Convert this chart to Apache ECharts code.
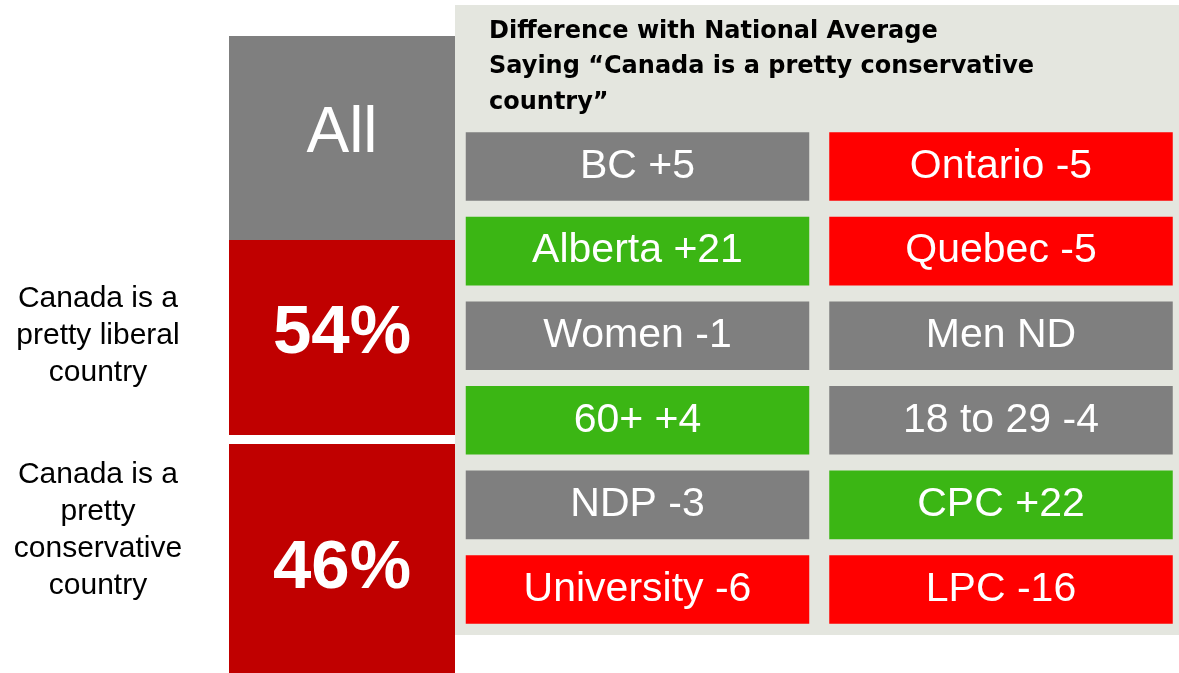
<!DOCTYPE html>
<html>
<head>
<meta charset="utf-8">
<script src="https://cdn.jsdelivr.net/npm/echarts@6/dist/echarts.min.js"></script>
<style>
html,body{margin:0;padding:0;background:#ffffff;}
#c{width:1179px;height:673px;}
</style>
</head>
<body>
<div id="c"></div>
<script>
// ---------- data ----------
const overallRows = ['All', 'Canada is a\npretty liberal\ncountry', 'Canada is a\npretty\nconservative\ncountry'];
const overallShares = [null, 54, 46];

const panelTitle = ['Difference with National Average', 'Saying \u201cCanada is a pretty conservative', 'country\u201d'];

const columnKeys = ['left', 'right'];
const leftGroups = ['BC', 'Alberta', 'Women', '60+', 'NDP', 'University'];
const leftDiffs = [5, 21, -1, 4, -3, -6];
const leftSig = ['ns', 'higher', 'ns', 'higher', 'ns', 'lower'];
const rightGroups = ['Ontario', 'Quebec', 'Men', '18 to 29', 'CPC', 'LPC'];
const rightDiffs = [-5, -5, null, -4, 22, -16];
const rightSig = ['lower', 'lower', 'ns', 'ns', 'higher', 'lower'];

// ---------- styles ----------
const GRAY = '#7f7f7f';
const DARK_RED = '#c00000';
const RED = '#ff0000';
const GREEN = '#3bb614';
const PANEL_BG = '#e4e6df';
const sigColor = { ns: GRAY, higher: GREEN, lower: RED };
const blockTextShift = [-4, -4, 10];
const sideLabelShift = [0, -6.5, -15.5];

function fmtDiff(v) {
  if (v === null || v === undefined) return 'ND';
  return v > 0 ? '+' + v : String(v);
}

const cells = [];
[[leftGroups, leftDiffs, leftSig], [rightGroups, rightDiffs, rightSig]].forEach(function (col, ci) {
  col[0].forEach(function (name, ri) {
    cells.push({ col: ci, row: ri, text: name + ' ' + fmtDiff(col[1][ri]), color: sigColor[col[2][ri]] });
  });
});

const chart = echarts.init(document.getElementById('c'), null, { renderer: 'canvas' });

const option = {
  animation: false,
  backgroundColor: '#ffffff',
  title: {
    text: panelTitle.join('\n'),
    left: 489,
    top: 14,
    padding: 0,
    textStyle: {
      fontFamily: 'DejaVu Sans',
      fontWeight: 'bold',
      fontSize: 24,
      lineHeight: 35.5,
      color: '#000000'
    }
  },
  graphic: [{
    type: 'rect',
    z: 0,
    shape: { x: 455, y: 5, width: 724, height: 630 },
    style: { fill: PANEL_BG }
  }],
  grid: [
    { left: 229, width: 226, top: 36, height: 612, containLabel: false, outerBoundsMode: 'none' },
    { left: 455.75, width: 727, top: 124.2, height: 507.6, containLabel: false, outerBoundsMode: 'none' }
  ],
  xAxis: [
    { gridIndex: 0, type: 'category', data: ['All'], show: false },
    { gridIndex: 1, type: 'category', data: columnKeys, show: false }
  ],
  yAxis: [
    { gridIndex: 0, type: 'category', inverse: true, data: overallRows.map(function (r, i) { return i; }), show: false },
    { gridIndex: 1, type: 'category', inverse: true, data: leftGroups.map(function (g, i) { return i; }), show: false }
  ],
  series: [
    {
      type: 'custom',
      xAxisIndex: 0, yAxisIndex: 0,
      z: 3,
      clip: false,
      data: overallRows.map(function (r, i) { return [0, i]; }),
      renderItem: function (params, api) {
        const idx = params.dataIndex;
        const c = api.coord([api.value(0), api.value(1)]);
        const s = api.size([1, 1]);
        const x = c[0] - s[0] / 2;
        const y = c[1] - s[1] / 2;
        let h = s[1];
        if (idx === 1) h = s[1] - 9;
        if (idx === 2) h = api.getHeight() - y;
        const isHead = idx === 0;
        const txt = isHead ? overallRows[0] : overallShares[idx] + '%';
        const children = [
          { type: 'rect', shape: { x: x, y: y, width: s[0], height: h }, style: { fill: isHead ? GRAY : DARK_RED } },
          {
            type: 'text', x: x + s[0] / 2, y: y + h / 2 + blockTextShift[idx],
            style: {
              text: txt, fill: '#ffffff', align: 'center', verticalAlign: 'middle',
              fontFamily: 'Liberation Sans', fontSize: isHead ? 64 : 69, fontWeight: isHead ? 'normal' : 'bold'
            }
          }
        ];
        if (!isHead) {
          children.push({
            type: 'text', x: x - 131, y: c[1] + sideLabelShift[idx],
            style: {
              text: overallRows[idx], fill: '#000000', align: 'center', verticalAlign: 'middle',
              fontFamily: 'Liberation Sans', fontSize: 30, lineHeight: 37
            }
          });
        }
        return { type: 'group', children: children };
      }
    },
    {
      type: 'custom',
      xAxisIndex: 1, yAxisIndex: 1,
      z: 3,
      clip: false,
      data: cells.map(function (c) { return [c.col, c.row]; }),
      renderItem: function (params, api) {
        const cell = cells[params.dataIndex];
        const c = api.coord([api.value(0), api.value(1)]);
        const s = api.size([1, 1]);
        const w = s[0] - 20;
        const h = s[1] - 16;
        return {
          type: 'group',
          children: [
            { type: 'rect', shape: { x: c[0] - w / 2, y: c[1] - h / 2, width: w, height: h }, style: { fill: cell.color } },
            {
              type: 'text', x: c[0], y: c[1],
              style: {
                text: cell.text, fill: '#ffffff', align: 'center', verticalAlign: 'middle',
                fontFamily: 'Liberation Sans', fontSize: 41
              }
            }
          ]
        };
      }
    }
  ]
};
chart.setOption(option);
</script>
</body>
</html>
